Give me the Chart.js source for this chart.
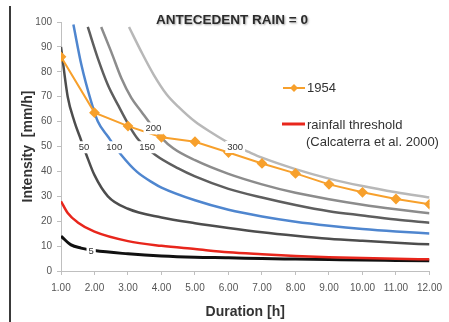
<!DOCTYPE html>
<html lang="en">
<head>
<meta charset="UTF-8">
<title>Antecedent rain = 0</title>
<script src="https://cdn.jsdelivr.net/npm/chart.js"></script>
<style>
    html, body { margin: 0; padding: 0; background: #fff; }
    .frame { position: relative; width: 449px; height: 322px; }
    .frame .edge { position: absolute; left: 9px; top: 6px; bottom: 0; width: 2px; background: #3a3a3a; }
    canvas { position: absolute; left: 0; top: 0; }
</style>
</head>
<body>
<div class="frame">
    <canvas id="idfChart" width="449" height="322"></canvas>
    <div class="edge"></div>
</div>
<script>
// durations [h] and intensities [mm/h]
const hours = [1, 2, 3, 4, 5, 6, 7, 8, 9, 10, 11, 12];
const event1954 = [86, 63.6, 58.2, 53.7, 51.9, 47.6, 43.2, 39.2, 34.8, 31.6, 28.9, 26.8];

const thresholdHours = [1, 1.2, 1.5, 2, 3, 4, 5, 6, 7, 8, 9, 10, 11, 12];
const thresholdRain = [28, 23.3, 19.5, 15.8, 12, 10.1, 8.8, 7.5, 6.7, 6.0, 5.5, 5.2, 4.9, 4.7];

const rp5Hours = [1, 1.3, 1.6, 2, 3, 4, 5, 6, 7, 8, 9, 10, 11, 12];
const rp5Rain = [14, 10.5, 9.2, 8.2, 6.9, 6.0, 5.5, 5.3, 5.0, 4.8, 4.6, 4.4, 4.25, 4.1];

const rp50Hours = [1, 1.2, 1.4, 1.56, 1.76, 2, 2.4, 3, 4, 5, 6, 7, 8, 9, 10, 11, 12];
const rp50Rain = [90, 70, 60, 54, 46.6, 38.5, 30, 25, 21.5, 19.2, 17.3, 15.6, 14.2, 13, 12.1, 11.3, 10.7];

const rp100Hours = [1.37, 1.61, 1.9, 2.1, 2.4, 2.8, 3.27, 3.76, 4, 5, 6, 7, 8, 9, 10, 11, 12];
const rp100Rain = [99, 82.7, 68, 60, 54, 46.6, 39.8, 35.3, 33.5, 28.4, 24.6, 21.9, 19.8, 18.2, 16.9, 15.9, 15.1];

const rp150Hours = [1.8, 2.1, 2.4, 2.7, 3.08, 3.32, 3.82, 4.5, 5, 6, 7, 8, 9, 10, 11, 12];
const rp150Rain = [98, 85.4, 74.7, 66.7, 57.3, 52.6, 46.6, 41.2, 38, 33, 29.5, 26.5, 24, 22.3, 20.7, 19.4];

const rp200Hours = [2.2, 2.5, 2.8, 3.1, 3.4, 3.76, 4, 4.35, 5, 6, 7, 8, 9, 10, 11, 12];
const rp200Rain = [98, 88, 77.5, 69.5, 64, 57.5, 53.5, 49.3, 44.5, 39, 34.8, 31.4, 28.8, 26.6, 24.8, 23.2];

const rp300Hours = [3.03, 3.4, 3.76, 4.15, 4.5, 5, 5.5, 6, 6.6, 7, 8, 9, 10, 11, 12];
const rp300Rain = [98, 88, 79, 71, 66, 60, 55.5, 51.5, 47.8, 45.5, 40.9, 37.1, 34.1, 31.6, 29.5];

// return-period labels sitting on the curves
const curveLabels = ['5', '50', '100', '150', '200', '300'];
const labelHours = [1.9, 1.69, 2.59, 3.57, 3.76, 6.2];
const labelRain = [7.8, 49.7, 49.7, 49.7, 57.3, 49.8];

const FONT = '"Liberation Sans", Arial, sans-serif';

function points(xs, ys) {
    return xs.map((x, i) => ({ x: x, y: ys[i] }));
}

function curve(xs, ys, color, width) {
    return {
        data: points(xs, ys),
        borderColor: color,
        borderWidth: width,
        pointRadius: 0,
        cubicInterpolationMode: 'monotone',
        fill: false
    };
}

const datasets = [
    {
        label: '1954',
        data: points(hours, event1954),
        borderColor: '#f7a02c',
        backgroundColor: '#f7a02c',
        borderWidth: 2,
        pointStyle: 'rectRot',
        pointRadius: 4,
        tension: 0
    },
    Object.assign(curve(thresholdHours, thresholdRain, '#e8261c', 2.5), { label: 'rainfall threshold' }),
    curve(rp5Hours, rp5Rain, '#111111', 3),
    curve(rp50Hours, rp50Rain, '#4d4d4d', 2.5),
    curve(rp100Hours, rp100Rain, '#4f86cf', 2.5),
    curve(rp150Hours, rp150Rain, '#5e5e5e', 2.5),
    curve(rp200Hours, rp200Rain, '#8c8c8c', 2.5),
    curve(rp300Hours, rp300Rain, '#b8b8b8', 2.5)
];

const overlay = {
    id: 'overlay',
    afterDatasetsDraw(chart) {
        const { ctx, scales: { x, y } } = chart;
        ctx.save();
        ctx.font = '9.5px ' + FONT;
        ctx.textAlign = 'center';
        ctx.textBaseline = 'middle';
        curveLabels.forEach((txt, i) => {
            const px = x.getPixelForValue(labelHours[i]);
            const py = y.getPixelForValue(labelRain[i]);
            const w = ctx.measureText(txt).width + 4;
            ctx.fillStyle = '#fff';
            ctx.fillRect(px - w / 2, py - 6, w, 12);
            ctx.fillStyle = '#333';
            ctx.fillText(txt, px, py);
        });
        ctx.restore();
    },
    afterDraw(chart) {
        const ctx = chart.ctx;
        ctx.save();
        // title
        ctx.font = 'bold 13.5px ' + FONT;
        ctx.textAlign = 'center';
        ctx.textBaseline = 'middle';
        ctx.shadowColor = 'rgba(0,0,0,0.35)';
        ctx.shadowBlur = 2;
        ctx.shadowOffsetX = 1;
        ctx.shadowOffsetY = 1;
        ctx.fillStyle = '#2b2b2b';
        ctx.fillText('ANTECEDENT RAIN = 0', 232, 20);
        ctx.shadowColor = 'transparent';

        // legend
        const ev = chart.data.datasets[0];
        const th = chart.data.datasets[1];
        ctx.lineWidth = 2;
        ctx.strokeStyle = ev.borderColor;
        ctx.beginPath();
        ctx.moveTo(283, 88);
        ctx.lineTo(305, 88);
        ctx.stroke();
        ctx.fillStyle = ev.backgroundColor;
        ctx.beginPath();
        ctx.moveTo(294, 84);
        ctx.lineTo(298, 88);
        ctx.lineTo(294, 92);
        ctx.lineTo(290, 88);
        ctx.closePath();
        ctx.fill();

        ctx.lineWidth = 3;
        ctx.strokeStyle = th.borderColor;
        ctx.beginPath();
        ctx.moveTo(282, 124);
        ctx.lineTo(305, 124);
        ctx.stroke();

        ctx.font = '13px ' + FONT;
        ctx.textAlign = 'left';
        ctx.fillStyle = '#333';
        ctx.fillText(ev.label, 307, 88);
        ctx.fillText(th.label, 307, 125);
        ctx.fillText('(Calcaterra et al. 2000)', 306, 142);
        ctx.restore();
    }
};

new Chart(document.getElementById('idfChart'), {
    type: 'line',
    data: { datasets: datasets },
    options: {
        responsive: false,
        animation: false,
        layout: { padding: { left: 16, right: 14, top: 22, bottom: 0 } },
        plugins: { legend: { display: false }, tooltip: { enabled: false } },
        scales: {
            x: {
                type: 'linear',
                min: 1,
                max: 12,
                ticks: {
                    stepSize: 1,
                    autoSkip: false,
                    maxRotation: 0,
                    padding: 7,
                    color: '#555',
                    font: { family: FONT, size: 10 },
                    callback: v => v.toFixed(2)
                },
                grid: { drawOnChartArea: false, tickLength: 4, color: '#bfbfbf' },
                border: { color: '#bfbfbf' },
                title: {
                    display: true,
                    text: 'Duration [h]',
                    color: '#333',
                    font: { family: FONT, size: 14, weight: 'bold' },
                    padding: { top: 4, bottom: 1 }
                },
                afterFit: s => { s.height = 51; }
            },
            y: {
                min: 0,
                max: 100,
                ticks: {
                    stepSize: 10,
                    padding: 5,
                    color: '#555',
                    font: { family: FONT, size: 10 }
                },
                grid: { drawOnChartArea: false, tickLength: 4, color: '#bfbfbf' },
                border: { color: '#bfbfbf' },
                title: {
                    display: true,
                    text: 'Intensity  [mm/h]',
                    color: '#333',
                    font: { family: FONT, size: 14, weight: 'bold' },
                    padding: { top: 4, bottom: 4 }
                },
                afterFit: s => { s.width = 45; }
            }
        }
    },
    plugins: [overlay]
});
</script>
</body>
</html>
